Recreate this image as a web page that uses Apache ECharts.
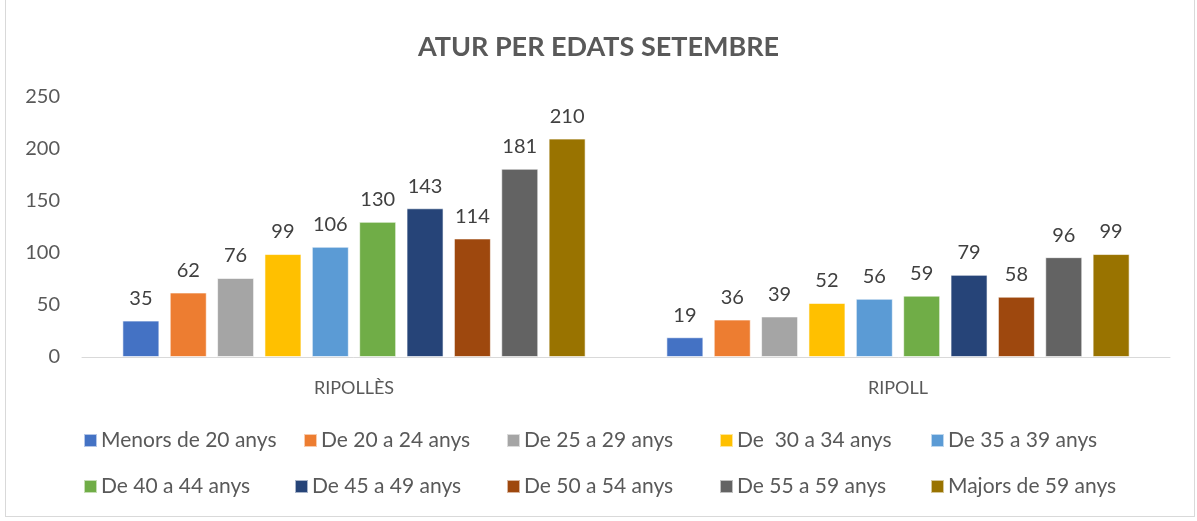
<!DOCTYPE html>
<html><head><meta charset="utf-8">
<script src="https://cdn.jsdelivr.net/npm/echarts@6/dist/echarts.min.js"></script>
<style>
html,body{margin:0;padding:0;background:#fff;}
#frame{position:absolute;left:5px;top:0;width:1190px;height:517px;border:1px solid #d9d9d9;border-top:none;box-sizing:border-box;}
#c{position:absolute;left:0;top:0;width:1197px;height:521px;}
</style></head>
<body><div id="frame"></div><div id="c"></div>
<script>
const categories = ['RIPOLLÈS', 'RIPOLL'];
const seriesNames = ['Menors de 20 anys','De 20 a 24 anys','De 25 a 29 anys','De  30 a 34 anys','De 35 a 39 anys','De 40 a 44 anys','De 45 a 49 anys','De 50 a 54 anys','De 55 a 59 anys','Majors de 59 anys'];
const menors20 = [35, 19];
const de20a24 = [62, 36];
const de25a29 = [76, 39];
const de30a34 = [99, 52];
const de35a39 = [106, 56];
const de40a44 = [130, 59];
const de45a49 = [143, 79];
const de50a54 = [114, 58];
const de55a59 = [181, 96];
const majors59 = [210, 99];
const seriesValues = [menors20, de20a24, de25a29, de30a34, de35a39, de40a44, de45a49, de50a54, de55a59, majors59];
const colors = ['#4472C4','#ED7D31','#A5A5A5','#FFC000','#5B9BD5','#70AD47','#264478','#9E480E','#636363','#997300'];
const FONT = 'Lato';
const legendPos = [[83,430],[303,430],[506,430],[719,430],[930,430],[83,476],[294,476],[506,476],[719,476],[930,476]];

const chart = echarts.init(document.getElementById('c'), null, {renderer:'canvas'});
chart.setOption({
  animation:false,
  title:{text:'ATUR PER EDATS SETEMBRE', left:'center', top:29,
    textStyle:{fontFamily:FONT, fontSize:27, fontWeight:'bold', color:'#595959'}},
  legend: seriesNames.map((n,i)=>({
    data:[n], left:legendPos[i][0], top:legendPos[i][1], itemWidth:13, itemHeight:13, itemGap:0,
    icon:'rect', padding:0,
    textStyle:{fontFamily:FONT, fontSize:21, color:'#595959', padding:[0,0,0,-1]}
  })),
  grid:{left:82, right:27, top:97, bottom:164},
  xAxis:{type:'category', data:categories,
    axisLine:{lineStyle:{color:'#d9d9d9', width:1}}, axisTick:{show:false},
    axisLabel:{fontFamily:FONT, fontSize:18, color:'#595959', margin:22}},
  yAxis:{type:'value', min:0, max:250, interval:50,
    splitLine:{show:false}, axisLine:{show:false}, axisTick:{show:false},
    axisLabel:{fontFamily:FONT, fontSize:20, color:'#595959', margin:22}},
  series: seriesNames.map((n,i)=>({
    name:n, type:'bar', data:seriesValues[i], barWidth:37, barGap:'28%',
    itemStyle:{color:colors[i], borderColor:'rgba(255,255,255,0.6)', borderWidth:1},
    label:{show:true, position:'top', distance:12, fontFamily:FONT, fontSize:20, color:'#404040'}
  }))
});
</script></body></html>
